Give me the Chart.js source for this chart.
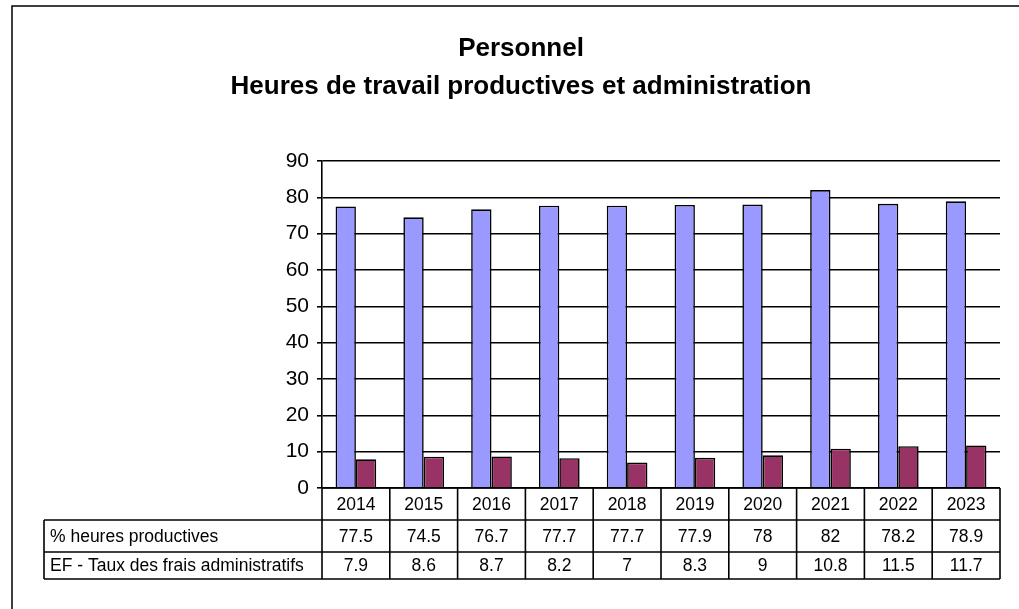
<!DOCTYPE html>
<html>
<head>
<meta charset="utf-8">
<script src="https://cdn.jsdelivr.net/npm/chart.js@4/dist/chart.umd.min.js"></script>
<style>
  body { margin: 0; background: #fff; }
  canvas { display: block; }
</style>
</head>
<body>
<canvas id="chart" width="1019" height="609"></canvas>
<script>
// données du graphique
const annees = ['2014', '2015', '2016', '2017', '2018', '2019', '2020', '2021', '2022', '2023'];
const heuresProductives = [77.5, 74.5, 76.7, 77.7, 77.7, 77.9, 78, 82, 78.2, 78.9];
const fraisAdmin = [7.9, 8.6, 8.7, 8.2, 7, 8.3, 9, 10.8, 11.5, 11.7];
const nomsSeries = ['% heures productives', 'EF - Taux des frais administratifs'];
const titreLignes = ['Personnel', 'Heures de travail productives et administration'];

const police = '"Liberation Sans", Arial, sans-serif';

// cadre, titre et tableau de données sous le graphique
const tableauPlugin = {
    id: 'tableau',
    beforeDraw(chart) {
        const ctx = chart.ctx;
        ctx.save();
        ctx.fillStyle = '#fff';
        ctx.fillRect(0, 0, chart.width, chart.height);
        ctx.strokeStyle = '#000';
        ctx.lineWidth = 1.5;
        ctx.beginPath();
        ctx.moveTo(12, chart.height + 2);
        ctx.lineTo(12, 6);
        ctx.lineTo(chart.width + 2, 6);
        ctx.stroke();

        ctx.fillStyle = '#000';
        ctx.font = 'bold 26px ' + police;
        ctx.textAlign = 'center';
        ctx.textBaseline = 'middle';
        ctx.fillText(titreLignes[0], 521, 49);
        ctx.fillText(titreLignes[1], 521, 87);
        ctx.restore();
    },
    afterDraw(chart) {
        const ctx = chart.ctx;
        const x = chart.scales.x;
        const area = chart.chartArea;
        const largeur = (area.right - area.left) / annees.length;
        const gauche = 44;
        const lignes = [area.bottom, 520, 552, 579];
        const valeurs = [heuresProductives, fraisAdmin];

        ctx.save();
        ctx.strokeStyle = '#000';
        ctx.lineWidth = 1.6;
        ctx.beginPath();
        // lignes horizontales
        ctx.moveTo(area.left, lignes[0]);
        ctx.lineTo(area.right, lignes[0]);
        for (let r = 1; r < lignes.length; r++) {
            ctx.moveTo(gauche, lignes[r]);
            ctx.lineTo(area.right, lignes[r]);
        }
        // lignes verticales
        ctx.moveTo(gauche, lignes[1]);
        ctx.lineTo(gauche, lignes[3]);
        for (let i = 0; i <= annees.length; i++) {
            const px = area.left + i * largeur;
            ctx.moveTo(px, lignes[0]);
            ctx.lineTo(px, lignes[3]);
        }
        ctx.stroke();

        ctx.fillStyle = '#000';
        ctx.font = '17.5px ' + police;
        ctx.textBaseline = 'middle';
        ctx.textAlign = 'center';
        annees.forEach((a, i) => {
            const cx = x.getPixelForValue(i);
            ctx.fillText(a, cx, (lignes[0] + lignes[1]) / 2 + 1);
            ctx.fillText(String(valeurs[0][i]), cx, (lignes[1] + lignes[2]) / 2 + 1);
            ctx.fillText(String(valeurs[1][i]), cx, (lignes[2] + lignes[3]) / 2 + 1);
        });
        ctx.textAlign = 'left';
        ctx.fillText(nomsSeries[0], gauche + 6, (lignes[1] + lignes[2]) / 2 + 1);
        ctx.fillText(nomsSeries[1], gauche + 6, (lignes[2] + lignes[3]) / 2 + 1);
        ctx.restore();
    }
};

new Chart(document.getElementById('chart'), {
    type: 'bar',
    data: {
        labels: annees,
        datasets: [{
            label: nomsSeries[0],
            data: heuresProductives,
            backgroundColor: '#9999FF',
            borderColor: '#000',
            borderWidth: 1.6
        }, {
            label: nomsSeries[1],
            data: fraisAdmin,
            backgroundColor: '#993366',
            borderColor: '#000',
            borderWidth: 1.6
        }]
    },
    options: {
        responsive: false,
        animation: false,
        layout: { padding: { left: 0, top: 161, right: 19, bottom: 121 } },
        plugins: {
            legend: { display: false },
            tooltip: { enabled: false }
        },
        datasets: {
            bar: { categoryPercentage: 0.6, barPercentage: 1 }
        },
        scales: {
            x: { display: false },
            y: {
                min: 0,
                max: 90,
                afterFit: (scale) => { scale.width = 322; },
                ticks: {
                    stepSize: 10,
                    color: '#000',
                    padding: 8,
                    font: { family: police, size: 21 }
                },
                grid: { color: '#000', lineWidth: 1.6, tickLength: 5 },
                border: { color: '#000', width: 1.6 }
            }
        }
    },
    plugins: [tableauPlugin]
});
</script>
</body>
</html>
